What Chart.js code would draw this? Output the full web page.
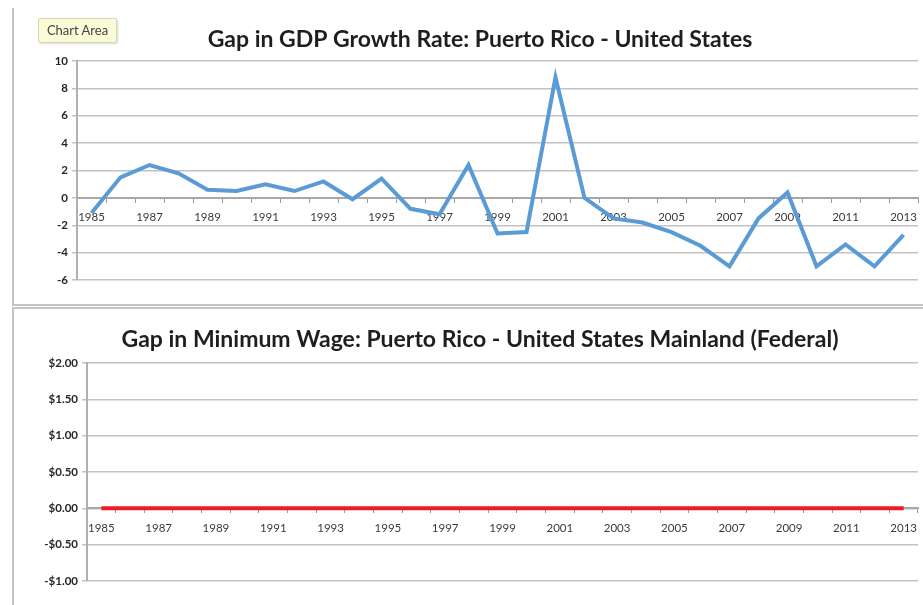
<!DOCTYPE html>
<html>
<head>
<meta charset="utf-8">
<script src="https://cdn.jsdelivr.net/npm/chart.js@4"></script>
<style>
  html, body { margin:0; padding:0; background:#fff; }
  body { width:923px; height:605px; position:relative; overflow:hidden; font-family:Lato, sans-serif; }
  .panel { position:absolute; }
  /* canvases run a little past the right edge so the titles sit centred at x=480 */
  #gdpWrap { left:14px; top:0; width:932px; height:305px; }
  #wageWrap { left:14px; top:308px; width:932px; height:297px; }
  .rule { position:absolute; background:#c4c4c4; }
  #tip {
    position:absolute; left:38px; top:18px; width:77px; height:23px;
    background:#fbfbd8; border:1px solid #d6d6b0; border-radius:2px;
    box-shadow:1px 1px 2px rgba(0,0,0,0.15);
    font:13px Lato, sans-serif; color:#444; line-height:23px; text-align:center;
  }
</style>
</head>
<body>
<div class="rule" style="left:12px;top:8px;width:2px;height:298px;"></div>
<div class="rule" style="left:12px;top:304px;width:911px;height:2px;"></div>
<div class="rule" style="left:12px;top:307px;width:911px;height:2px;"></div>
<div class="rule" style="left:12px;top:307px;width:2px;height:298px;"></div>

<div class="panel" id="gdpWrap"><canvas id="gdpChart"></canvas></div>
<div class="panel" id="wageWrap"><canvas id="wageChart"></canvas></div>
<div id="tip">Chart Area</div>

<script>
// ---- data ----
const years = ['1985','1986','1987','1988','1989','1990','1991','1992','1993','1994',
  '1995','1996','1997','1998','1999','2000','2001','2002','2003','2004',
  '2005','2006','2007','2008','2009','2010','2011','2012','2013'];

// Puerto Rico growth minus US growth (percentage points)
const gdpGap = [-1.1, 1.5, 2.4, 1.8, 0.6, 0.5, 1.0, 0.5, 1.2, -0.1,
  1.4, -0.8, -1.2, 2.4, -2.6, -2.5, 8.8, 0.0, -1.5, -1.8,
  -2.5, -3.5, -5.0, -1.5, 0.4, -5.0, -3.4, -5.0, -2.7];

// PR minimum wage minus federal minimum wage (USD)
const wageGap = [0,0,0,0,0,0,0,0,0,0, 0,0,0,0,0,0,0,0,0,0, 0,0,0,0,0,0,0,0,0];

const gdpTicks  = { min:-6, max:10, step:2 };
const wageTicks = { min:-1, max:2, step:0.5 };

const gdpTitle  = 'Gap in GDP Growth Rate: Puerto Rico - United States';
const wageTitle = 'Gap in Minimum Wage: Puerto Rico - United States Mainland (Federal)';

// —— shared helpers ——
function money(v) {
  const s = '$' + Math.abs(v).toFixed(2);
  return v < 0 ? '-' + s : s;
}

function buildChart(id, opts) {
  const ctx = document.getElementById(id);
  return new Chart(ctx, {
    type: 'line',
    data: {
      labels: years,
      datasets: [{
        data: opts.values,
        borderColor: opts.color,
        borderWidth: 4,
        pointRadius: 0,
        tension: 0,
        fill: false
      }]
    },
    options: {
      responsive: true,
      maintainAspectRatio: false,
      animation: false,
      layout: { padding: { left:0, right:0, top:0, bottom:opts.padBottom } },
      plugins: {
        legend: { display:false },
        tooltip: { enabled:false },
        title: {
          display: true,
          text: opts.title,
          color: '#1e1e1e',
          font: { family:'Lato', size:23, weight:'bold', lineHeight:1.2 },
          padding: { top:opts.titleTop, bottom:opts.titleBottom }
        }
      },
      scales: {
        x: {
          position: { y: 0 },
          offset: true,
          grid: {
            offset: true,
            drawOnChartArea: false,
            drawTicks: true,
            tickLength: 4,
            color: '#9a9a9a'
          },
          border: { display:true, color:'#a8a8a8', width:2 },
          ticks: {
            autoSkip: false,
            maxRotation: 0,
            padding: 9,
            color: '#3a3a3a',
            font: { family:'Lato', size:11.5 },
            callback: (v, i) => i % 2 === 0 ? years[i] : ''
          }
        },
        y: {
          min: opts.ticks.min,
          max: opts.ticks.max,
          afterFit: s => { s.width = opts.axisWidth; },
          grid: { color:'#c2c2c2', lineWidth:1.5, tickLength:5 },
          border: { display:true, color:'#b0b0b0', width:2 },
          ticks: {
            stepSize: opts.ticks.step,
            padding: 4,
            color: '#262626',
            font: { family:'Lato', size:11.5, weight:'bold' },
            callback: opts.fmt
          }
        },
        // empty right-hand strip: keeps the plot short of the canvas edge
        // without narrowing the title box
        gutter: {
          position: 'right',
          afterFit: s => { s.width = 28; },
          grid: { display:false },
          border: { display:false },
          ticks: { display:false }
        }
      }
    }
  });
}

window.addEventListener('DOMContentLoaded', function () {
  buildChart('gdpChart', {
    values: gdpGap, color: '#5b9bd5', title: gdpTitle,
    ticks: gdpTicks, fmt: v => String(v),
    axisWidth: 63, padBottom: 25, titleTop: 26, titleBottom: 7.4
  });
  buildChart('wageChart', {
    values: wageGap, color: '#ec1c24', title: wageTitle,
    ticks: wageTicks, fmt: v => money(v),
    axisWidth: 73, padBottom: 24, titleTop: 18, titleBottom: 9.4
  });
});
</script>
</body>
</html>
